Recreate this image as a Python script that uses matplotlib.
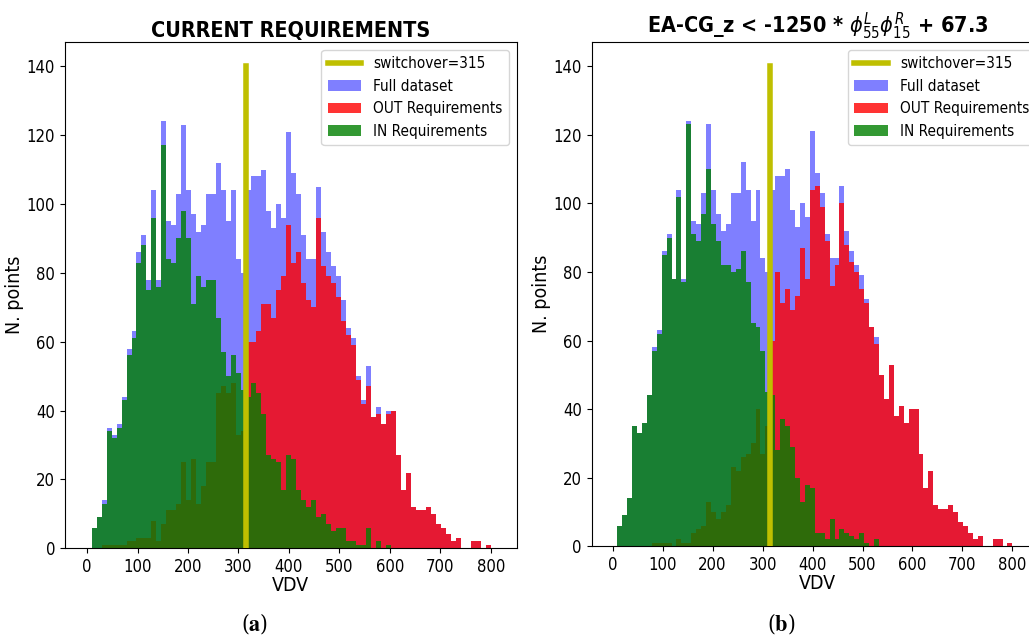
import numpy as np
import matplotlib
matplotlib.use('Agg')
import matplotlib.pyplot as plt

plt.rcParams['font.family'] = ['DejaVu Sans']
plt.rcParams['font.stretch'] = 'condensed'

# histogram bins (VDV)
vdv_min, vdv_max, n_bins = 9, 800, 80
switchover = 315

# full dataset counts per bin (same in both panels)
full_counts = [6, 9, 14, 35, 33, 36, 44, 58, 63, 86,
               91, 78, 104, 78, 124, 95, 94, 103, 123, 104,
               97, 92, 94, 103, 103, 112, 104, 95, 104, 84,
               80, 104, 108, 108, 110, 98, 93, 100, 96, 121,
               109, 103, 91, 84, 84, 105, 92, 86, 82, 79,
               72, 64, 61, 50, 43, 53, 38, 41, 36, 40,
               40, 27, 17, 22, 12, 11, 11, 12, 10, 7,
               6, 4, 2, 3, 0, 0, 2, 2, 0, 1]

# (a) current requirements
in_a = [6, 9, 13, 34, 32, 35, 43, 56, 61, 83,
        88, 75, 96, 76, 117, 84, 83, 90, 98, 90,
        71, 79, 76, 78, 78, 67, 57, 50, 56, 51,
        46, 44, 48, 45, 39, 27, 26, 25, 17, 27,
        26, 17, 14, 12, 14, 9, 10, 7, 5, 6,
        6, 2, 2, 1, 1, 6, 0, 2, 0, 1,
        0, 0, 0, 0, 0, 0, 0, 0, 0, 0,
        0, 0, 0, 0, 0, 0, 0, 0, 0, 0]
out_a = [0, 0, 1, 1, 1, 1, 1, 2, 2, 3,
         3, 3, 8, 2, 7, 11, 11, 13, 25, 14,
         26, 13, 18, 25, 25, 45, 47, 45, 48, 33,
         34, 60, 60, 63, 71, 71, 67, 75, 79, 94,
         83, 86, 77, 72, 70, 96, 82, 79, 77, 73,
         66, 62, 59, 49, 42, 47, 38, 39, 36, 39,
         40, 27, 17, 22, 12, 11, 11, 12, 10, 7,
         6, 4, 2, 3, 0, 0, 2, 2, 0, 1]

# (b) proposed requirement
in_b = [6, 9, 14, 35, 33, 36, 44, 57, 62, 85,
        90, 78, 102, 77, 123, 91, 89, 97, 110, 94,
        89, 82, 82, 80, 81, 86, 77, 65, 64, 57,
        45, 44, 28, 37, 35, 29, 20, 13, 18, 17,
        4, 4, 2, 8, 2, 5, 4, 3, 2, 4,
        1, 0, 2, 0, 0, 0, 0, 0, 0, 0,
        0, 0, 0, 0, 0, 0, 0, 0, 0, 0,
        0, 0, 0, 0, 0, 0, 0, 0, 0, 0]
out_b = [0, 0, 0, 0, 0, 0, 0, 1, 1, 1,
         1, 0, 2, 1, 1, 4, 5, 6, 13, 10,
         8, 10, 12, 23, 22, 26, 27, 30, 40, 27,
         35, 60, 80, 71, 75, 69, 73, 87, 78, 104,
         105, 99, 89, 76, 82, 100, 88, 83, 80, 75,
         71, 64, 59, 50, 43, 53, 38, 41, 36, 40,
         40, 27, 17, 22, 12, 11, 11, 12, 10, 7,
         6, 4, 2, 3, 0, 0, 2, 2, 0, 1]

titles = ['CURRENT REQUIREMENTS',
          r'EA-CG_z < -1250 * $\phi^{L}_{55}\phi^{R}_{15}$ + 67.3']
captions = ['a', 'b']

edges = np.linspace(vdv_min, vdv_max, n_bins + 1)
centers = (edges[:-1] + edges[1:]) / 2

fig = plt.figure(figsize=(10.29, 6.39), dpi=100)
ax_a = fig.add_axes([0.063, 0.142, 0.439, 0.792])
ax_b = fig.add_axes([0.575, 0.145, 0.439, 0.789])

for ax, in_c, out_c, title, cap, xlim in zip([ax_a, ax_b], [in_a, in_b], [out_a, out_b],
                                              titles, captions, [(-44, 851), (-42, 862)]):
    ax.plot([switchover, switchover], [0, 140], color='y', lw=4,
            label='switchover=%d' % switchover, zorder=3)
    ax.hist(centers, bins=edges, weights=full_counts, color='blue', alpha=0.5,
            label='Full dataset')
    ax.hist(centers, bins=edges, weights=out_c, color='red', alpha=0.8,
            label='OUT Requirements')
    ax.hist(centers, bins=edges, weights=in_c, color='green', alpha=0.8,
            label='IN Requirements')
    ax.set_xlim(*xlim)
    ax.set_ylim(0, 147)
    ax.set_xticks(range(0, 801, 100))
    ax.set_yticks(range(0, 141, 20))
    ax.tick_params(labelsize=12)
    ax.set_xlabel('VDV', fontsize=14, labelpad=0)
    ax.set_ylabel('N. points', fontsize=14, labelpad=2)
    ax.set_title(title, fontsize=15.5, fontweight='bold', pad=4)
    ax.legend(loc='upper right', fontsize=11, handlelength=2.2)
    pos = ax.get_position()
    fig.text(pos.x0 + 0.42 * pos.width, 0.005, r'($\mathbf{%s}$)' % cap,
             fontsize=16, family='DejaVu Serif', math_fontfamily='stix',
             ha='center', va='bottom')

plt.savefig('out.png', dpi=100)
